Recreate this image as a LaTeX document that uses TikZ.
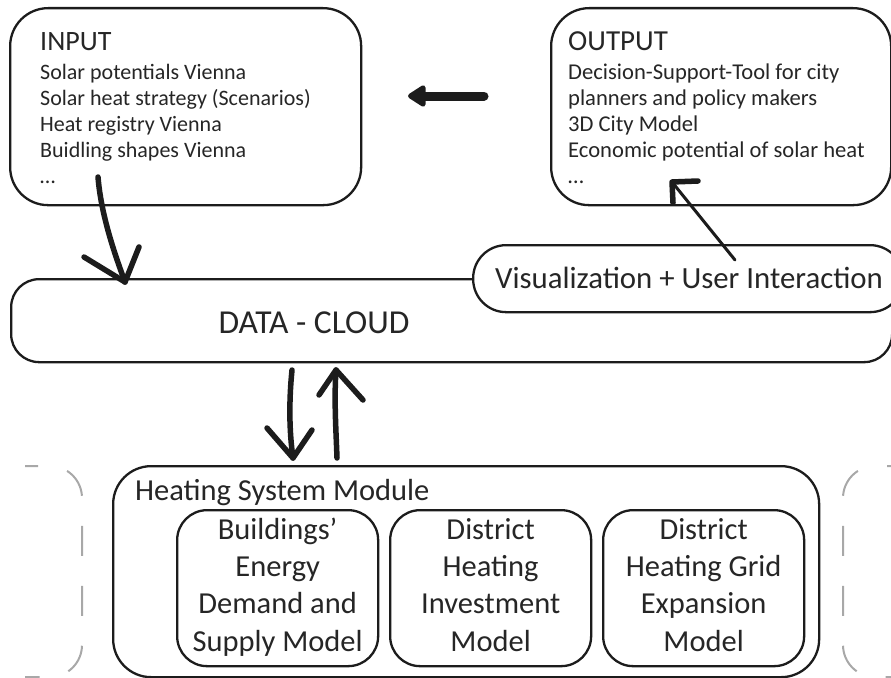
\documentclass[tikz,border=0pt]{standalone}
\usepackage{fontspec}
\setmainfont{Carlito}
\usetikzlibrary{arrows.meta}
\definecolor{linec}{HTML}{1C1C1C}
\definecolor{txt}{HTML}{262626}
\definecolor{dashc}{HTML}{A8A8A8}
\begin{document}
\begin{tikzpicture}[x=1pt,y=-1pt,
  box/.style={draw=linec, line width=2.3pt, rounded corners=#1, fill=white,
    anchor=north west, inner sep=0pt},
  innerbox/.style={box=30pt, minimum width=201pt, minimum height=156pt,
    align=center, text=txt, font=\fontsize{30.5}{37.3}\selectfont},
  bracket/.style={draw=dashc, line width=2pt, rounded corners=32pt,
    dash pattern=on 30pt off 30pt, dash phase=17pt},
  hand/.style={draw=linec, line width=5.5pt, line cap=round, line join=round},
  thinhand/.style={draw=linec, line width=3pt, line cap=round},
  label/.style={text=txt, inner sep=0pt}
]
\useasboundingbox (0,0) rectangle (891,677);
\clip (0,0) rectangle (891,677);

% dashed brackets behind the module
\draw[bracket] (25,466) -- (82,466) -- (82,677) -- (25,677);
\draw[bracket] (900,466) -- (843,466) -- (843,677) -- (900,677);

% top boxes
\node[box=38pt, minimum width=351pt, minimum height=197pt] (inbox) at (9,7) {};
\node[label, anchor=north west, align=left, font=\fontsize{22}{26}\selectfont] (intext) at (40,30)
  {\rule{0pt}{20pt}{\fontsize{28}{26}\selectfont INPUT}\\[3pt]
   Solar potentials Vienna\\
   Solar heat strategy (Scenarios)\\
   Heat registry Vienna\\
   Buidling shapes Vienna\\
   …};
\node[box=38pt, minimum width=340pt, minimum height=197pt] (outbox) at (550,7) {};
\node[label, anchor=north west, align=left, font=\fontsize{22.6}{26}\selectfont] (outtext) at (568,30)
  {\rule{0pt}{20pt}{\fontsize{29}{26}\selectfont OUTPUT}\\[3pt]
   Decision-Support-Tool for city\\
   planners and policy makers\\
   3D City Model\\
   Economic potential of solar heat\\
   …};

% data cloud and visualization
\node[box=28pt, minimum width=881pt, minimum height=83pt] (cloud) at (10,278) {};
\node[label, anchor=base, font=\fontsize{33.5}{38}\selectfont] (cloudtext) at (314,333) {DATA - CLOUD};
\node[box=33pt, minimum width=430pt, minimum height=67pt] (viz) at (472,244) {};
\node[label, anchor=base, font=\fontsize{30.8}{36}\selectfont] (viztext) at (689,288) {Visualization + User Interaction};

% heating system module
\node[box=38pt, minimum width=706pt, minimum height=211pt] (hsm) at (112,465) {};
\node[label, anchor=base west, font=\fontsize{30.5}{34}\selectfont] (hsmtext) at (135,500) {Heating System Module};
\node[innerbox] (b1) at (176,509) {\rule{0pt}{22pt}Buildings’\\Energy\\Demand and\\Supply Model\rule[-8pt]{0pt}{8pt}};
\node[innerbox] (b2) at (389,509) {\rule{0pt}{22pt}District\\Heating\\Investment\\Model\rule[-8pt]{0pt}{8pt}};
\node[innerbox] (b3) at (602,509) {\rule{0pt}{22pt}District\\Heating Grid\\Expansion\\Model\rule[-8pt]{0pt}{8pt}};

% arrows
\coordinate (a1s) at (98,177);
\coordinate (a1t) at (125,282);
\draw[hand] (a1s) .. controls (101,215) and (115,255) .. (a1t);
\draw[hand] (a1t) -- ++(-41,-25) (a1t) -- ++(14,-35);

\coordinate (l1s) at (484,96);
\coordinate (l1t) at (408,96);
\draw[draw=linec, line width=9pt, line cap=round,
  -{Triangle[length=20pt, width=24pt, round]}] (l1s) -- (l1t);

\coordinate (o1s) at (735,260);
\coordinate (o1t) at (672,182);
\draw[thinhand] (o1s) -- (o1t);
\draw[hand] (o1t) -- ++(26,-1) (o1t) -- ++(1,21);

\coordinate (d1s) at (292,370);
\coordinate (d1t) at (293,458);
\draw[hand] (d1s) .. controls (289,400) and (289,430) .. (d1t);
\draw[hand] (d1t) -- ++(-26,-30) (d1t) -- ++(19,-28);

\coordinate (u1s) at (337,458);
\coordinate (u1t) at (336,370);
\draw[hand] (u1s) .. controls (336,430) and (334,400) .. (u1t);
\draw[hand] (u1t) -- ++(-17,25) (u1t) -- ++(27,30);
\end{tikzpicture}
\end{document}
